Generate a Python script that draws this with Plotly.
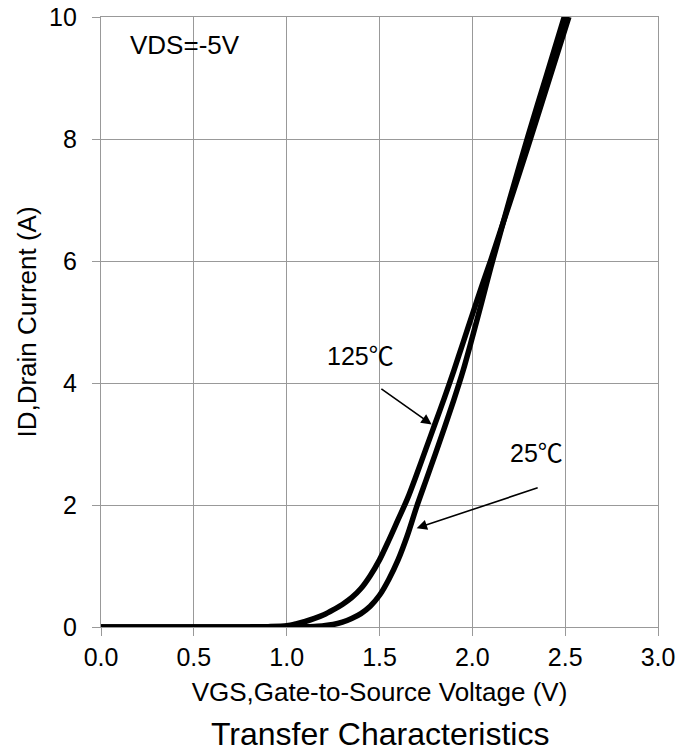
import plotly.graph_objects as go

# Data
vgs_125 = [0.0, 0.5, 0.8, 0.9, 1.0, 1.05, 1.1, 1.15, 1.2, 1.25, 1.3, 1.35, 1.4, 1.45, 1.5, 1.55, 1.6, 1.65,
           1.7, 1.75, 1.8, 1.85, 1.9, 1.95, 2.0, 2.05, 2.1, 2.15, 2.2, 2.3, 2.4, 2.52]
id_125 = [0.0, 0.0, 0.002, 0.006, 0.02, 0.05, 0.09, 0.14, 0.20, 0.28, 0.37, 0.48, 0.63, 0.84, 1.10, 1.42, 1.76, 2.10,
          2.50, 2.92, 3.34, 3.76, 4.20, 4.66, 5.12, 5.58, 6.02, 6.48, 6.94, 7.88, 8.84, 10.0]

vgs_25 = [0.0, 0.5, 0.8, 1.0, 1.1, 1.15, 1.2, 1.25, 1.3, 1.35, 1.4, 1.45, 1.5, 1.55, 1.6, 1.65,
          1.7, 1.75, 1.8, 1.85, 1.9, 1.95, 2.0, 2.05, 2.1, 2.15, 2.2, 2.3, 2.4, 2.5]
id_25 = [0.0, 0.0, 0.0, 0.0, 0.004, 0.01, 0.02, 0.04, 0.08, 0.14, 0.22, 0.34, 0.52, 0.78, 1.10, 1.50,
         1.97, 2.40, 2.83, 3.27, 3.72, 4.20, 4.75, 5.32, 5.90, 6.45, 7.00, 8.05, 9.05, 10.05]

x_ticks = [0.0, 0.5, 1.0, 1.5, 2.0, 2.5, 3.0]
y_ticks = [0, 2, 4, 6, 8, 10]

FONT = "Liberation Sans, Arial, Noto Sans CJK SC"
GRID = "#999999"

fig = go.Figure()
for xs, ys in ((vgs_125, id_125), (vgs_25, id_25)):
    fig.add_trace(go.Scatter(x=xs, y=ys, mode="lines",
                             line=dict(color="black", width=5.5, shape="spline", smoothing=0.8),
                             showlegend=False))

fig.update_layout(
    width=691, height=756,
    margin=dict(l=101, r=33, t=17, b=129),
    plot_bgcolor="white", paper_bgcolor="white",
    font=dict(family=FONT, size=25, color="black"),
    xaxis=dict(range=[0, 3], tickvals=x_ticks, ticktext=[f"{v:.1f}" for v in x_ticks],
               showgrid=True, gridcolor=GRID, gridwidth=1.4,
               showline=True, linecolor=GRID, linewidth=1.4, mirror=True,
               ticks="outside", ticklen=8, tickcolor=GRID, tickwidth=1.4,
               zeroline=False, automargin=False,
               title=dict(text="VGS,Gate-to-Source Voltage (V)", font=dict(size=26), standoff=12),
               tickfont=dict(size=25)),
    yaxis=dict(range=[0, 10], tickvals=y_ticks,
               showgrid=True, gridcolor=GRID, gridwidth=1.4,
               showline=True, linecolor=GRID, linewidth=1.4, mirror=True,
               ticks="outside", ticklen=8, tickcolor=GRID, tickwidth=1.4,
               zeroline=False, ticklabelstandoff=10, automargin=False,
               title=dict(text="ID,Drain Current (A)", font=dict(size=26), standoff=4),
               tickfont=dict(size=25)),
)

fig.add_annotation(x=0.144, y=9.54, xref="x", yref="y", text="VDS=-5V", showarrow=False,
                   xanchor="left", font=dict(size=26))
fig.add_annotation(x=1.781, y=3.32, xref="x", yref="y", ax=1.502, ay=3.92, axref="x", ayref="y",
                   text="", showarrow=True, arrowhead=2, arrowsize=1.3, arrowwidth=1.6, arrowcolor="black")
fig.add_annotation(x=1.395, y=4.45, xref="x", yref="y", text="125℃", showarrow=False,
                   font=dict(size=25))
fig.add_annotation(x=1.700, y=1.62, xref="x", yref="y", ax=2.360, ay=2.29, axref="x", ayref="y",
                   text="", showarrow=True, arrowhead=2, arrowsize=1.3, arrowwidth=1.6, arrowcolor="black")
fig.add_annotation(x=2.348, y=2.86, xref="x", yref="y", text="25℃", showarrow=False,
                   font=dict(size=25))
fig.add_annotation(x=0.5, y=-(734 - 627) / 610, xref="paper", yref="paper", text="Transfer Characteristics",
                   showarrow=False, yanchor="middle", font=dict(size=32))

fig.write_html("out.html")
